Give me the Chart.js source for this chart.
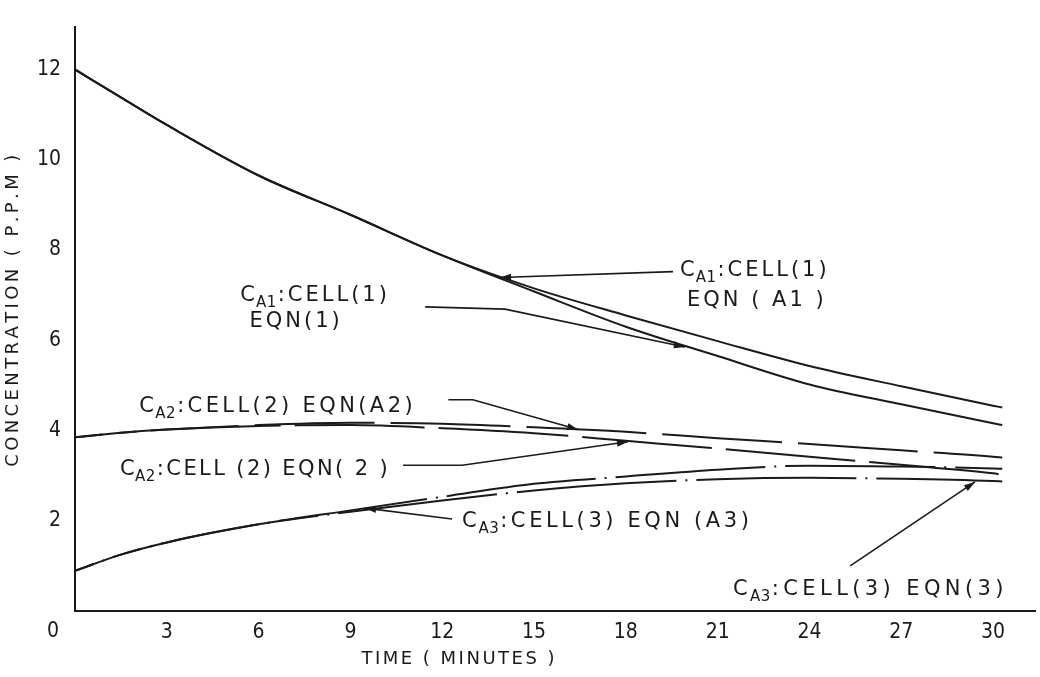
<!DOCTYPE html>
<html>
<head>
<meta charset="utf-8">
<script src="https://cdn.jsdelivr.net/npm/chart.js@4.4.1/dist/chart.umd.min.js"></script>
<style>
html, body { margin: 0; padding: 0; background: #fff; }
#wrap { width: 1040px; height: 677px; }
</style>
</head>
<body>
<div id="wrap"><canvas id="chart01"></canvas></div>
<script>
// time in minutes, concentration in p.p.m.
const timeMin = [0, 1.5, 3, 6, 9, 12, 15, 18, 21, 24, 27, 30, 30.3]
const cellOneEqnA1 = [12, 11.38, 10.77, 9.65, 8.78, 7.88, 7.15, 6.55, 5.98, 5.43, 4.98, 4.55, 4.51]
const cellOneEqn1 = [12, 11.38, 10.77, 9.65, 8.78, 7.88, 7.08, 6.3, 5.65, 5.02, 4.58, 4.16, 4.12]
const cellTwoEqnA2 = [3.85, 3.95, 4.02, 4.12, 4.17, 4.15, 4.07, 3.97, 3.83, 3.7, 3.56, 3.42, 3.4]
const cellTwoEqn2 = [3.85, 3.95, 4.02, 4.1, 4.12, 4.05, 3.94, 3.77, 3.6, 3.42, 3.24, 3.05, 3.02]
const cellThreeEqnA3 = [0.89, 1.25, 1.52, 1.92, 2.23, 2.53, 2.82, 2.98, 3.13, 3.22, 3.2, 3.16, 3.15]
const cellThreeEqn3 = [0.89, 1.25, 1.52, 1.92, 2.2, 2.45, 2.67, 2.83, 2.92, 2.95, 2.93, 2.88, 2.87]

const xTickValues = [3, 6, 9, 12, 15, 18, 21, 24, 27, 30]
const yTickValues = [2, 4, 6, 8, 10, 12]

const xTitle = 'TIME ( MINUTES )'
const yTitle = 'CONCENTRATION ( P.P.M )'

// callout labels: [C, subscript, rest], placed in data units (minutes, ppm)
const notes = [
    { parts: ['C', 'A1', ':CELL(1)'], at: [19.77, 7.42], line2: 'EQN ( A1 )', at2: [20.0, 6.76], gap: 3,
      leader: [[19.54, 7.52], [13.89, 7.39]] },
    { parts: ['C', 'A1', ':CELL(1)'], at: [5.4, 6.87], line2: 'EQN(1)', at2: [5.7, 6.3], gap: 3,
      leader: [[11.44, 6.74], [14.05, 6.69], [19.93, 5.85]] },
    { parts: ['C', 'A2', ':CELL(2) EQN(A2)'], at: [2.1, 4.42], gap: 3.4,
      leader: [[12.2, 4.68], [13.0, 4.68], [16.44, 4.02]] },
    { parts: ['C', 'A2', ':CELL (2) EQN( 2 )'], at: [1.47, 3.01], gap: 2.4,
      leader: [[10.72, 3.23], [12.65, 3.23], [18.07, 3.75]] },
    { parts: ['C', 'A3', ':CELL(3) EQN (A3)'], at: [12.65, 1.86], gap: 3.6,
      leader: [[12.32, 2.04], [9.48, 2.28]] },
    { parts: ['C', 'A3', ':CELL(3) EQN(3)'], at: [21.5, 0.35], gap: 4.4,
      leader: [[25.33, 1.0], [29.41, 2.86]] }
]

const ink = '#1a1a1a'
const labelFont = '21px "DejaVu Sans"'
const subFont = '15px "DejaVu Sans"'
const tickFont = { family: '"DejaVu Sans Condensed", "DejaVu Sans"', size: 21 }

function pts(ys) {
    return timeMin.map((t, i) => ({ x: t, y: ys[i] }))
}

function spaced(ctx, text, x, y, gap) {
    for (const ch of text) {
        ctx.fillText(ch, x, y)
        x += ctx.measureText(ch).width + gap
    }
    return x
}

function spacedWidth(ctx, text, gap) {
    let w = 0
    for (const ch of text) w += ctx.measureText(ch).width + gap
    return w - gap
}

function arrowHead(ctx, x0, y0, x1, y1) {
    const a = Math.atan2(y1 - y0, x1 - x0)
    const len = 11, half = 3.5
    ctx.beginPath()
    ctx.moveTo(x1, y1)
    ctx.lineTo(x1 - len * Math.cos(a) + half * Math.sin(a), y1 - len * Math.sin(a) - half * Math.cos(a))
    ctx.lineTo(x1 - len * Math.cos(a) - half * Math.sin(a), y1 - len * Math.sin(a) + half * Math.cos(a))
    ctx.closePath()
    ctx.fill()
}

const decorations = {
    id: 'decorations',
    afterDraw(chart) {
        const { ctx, scales: { x, y } } = chart
        ctx.save()
        ctx.fillStyle = ink
        ctx.strokeStyle = ink

        // origin label sits below the axis corner
        ctx.font = '21px "DejaVu Sans Condensed", "DejaVu Sans"'
        ctx.textAlign = 'right'
        ctx.textBaseline = 'middle'
        ctx.fillText('0', y.right - 16, y.getPixelForValue(0) + 21)

        // axis titles
        ctx.font = '18px "DejaVu Sans"'
        ctx.textAlign = 'left'
        ctx.textBaseline = 'alphabetic'
        let w = spacedWidth(ctx, xTitle, 2.5)
        spaced(ctx, xTitle, 458 - w / 2, x.bottom - 13, 2.5)

        ctx.save()
        ctx.translate(18, (chart.chartArea.top + chart.chartArea.bottom) / 2 - 8)
        ctx.rotate(-Math.PI / 2)
        w = spacedWidth(ctx, yTitle, 3.4)
        spaced(ctx, yTitle, -w / 2, 0, 3.4)
        ctx.restore()

        // callouts
        ctx.lineWidth = 1.6
        for (const n of notes) {
            let px = x.getPixelForValue(n.at[0])
            const py = y.getPixelForValue(n.at[1])
            ctx.font = labelFont
            px = spaced(ctx, n.parts[0], px, py, n.gap)
            ctx.font = subFont
            px = spaced(ctx, n.parts[1], px - 2, py + 6, 0.5)
            ctx.font = labelFont
            spaced(ctx, n.parts[2], px + 1, py, n.gap)
            if (n.line2) {
                spaced(ctx, n.line2, x.getPixelForValue(n.at2[0]), y.getPixelForValue(n.at2[1]), n.gap)
            }
            const path = n.leader.map(p => [x.getPixelForValue(p[0]), y.getPixelForValue(p[1])])
            ctx.beginPath()
            ctx.moveTo(path[0][0], path[0][1])
            for (let i = 1; i < path.length; i++) ctx.lineTo(path[i][0], path[i][1])
            ctx.stroke()
            const a = path[path.length - 2], b = path[path.length - 1]
            arrowHead(ctx, a[0], a[1], b[0], b[1])
        }
        ctx.restore()
    }
}

function series(label, ys, dash, offset) {
    return {
        label: label,
        data: pts(ys),
        borderColor: ink,
        borderWidth: 2,
        borderDash: dash,
        borderDashOffset: offset || 0,
        pointRadius: 0,
        fill: false,
        cubicInterpolationMode: 'monotone'
    }
}

const chart01 = document.getElementById('chart01').getContext('2d')

const myChart = new Chart(chart01, {
    type: 'line',
    data: {
        datasets: [
            series('CA1: CELL(1) EQN(A1)', cellOneEqnA1, []),
            series('CA1: CELL(1) EQN(1)', cellOneEqn1, []),
            series('CA2: CELL(2) EQN(A2)', cellTwoEqnA2, [120, 16], -180),
            series('CA2: CELL(2) EQN(2)', cellTwoEqn2, [130, 14], -220),
            series('CA3: CELL(3) EQN(A3)', cellThreeEqnA3, [150, 9, 2, 9], -40),
            series('CA3: CELL(3) EQN(3)', cellThreeEqn3, [160, 9, 2, 9], -90)
        ]
    },
    options: {
        responsive: true,
        maintainAspectRatio: false,
        animation: false,
        devicePixelRatio: 1,
        layout: { padding: { top: 13, right: 5, left: 0, bottom: 0 } },
        plugins: {
            legend: { display: false },
            tooltip: { enabled: false }
        },
        scales: {
            x: {
                type: 'linear',
                min: 0,
                max: 31.37,
                afterBuildTicks: scale => { scale.ticks = xTickValues.map(v => ({ value: v })) },
                afterFit: scale => { scale.height = 66 },
                grid: { display: false, drawTicks: false },
                border: { display: true, color: ink, width: 2 },
                ticks: { color: ink, padding: 9, autoSkip: false, maxRotation: 0, font: tickFont }
            },
            y: {
                type: 'linear',
                min: 0,
                max: 12.95,
                afterBuildTicks: scale => { scale.ticks = yTickValues.map(v => ({ value: v })) },
                afterFit: scale => { scale.width = 75 },
                grid: { display: false, drawTicks: false },
                border: { display: true, color: ink, width: 2 },
                ticks: { color: ink, padding: 14, font: tickFont }
            }
        }
    },
    plugins: [decorations]
});
</script>
</body>
</html>
